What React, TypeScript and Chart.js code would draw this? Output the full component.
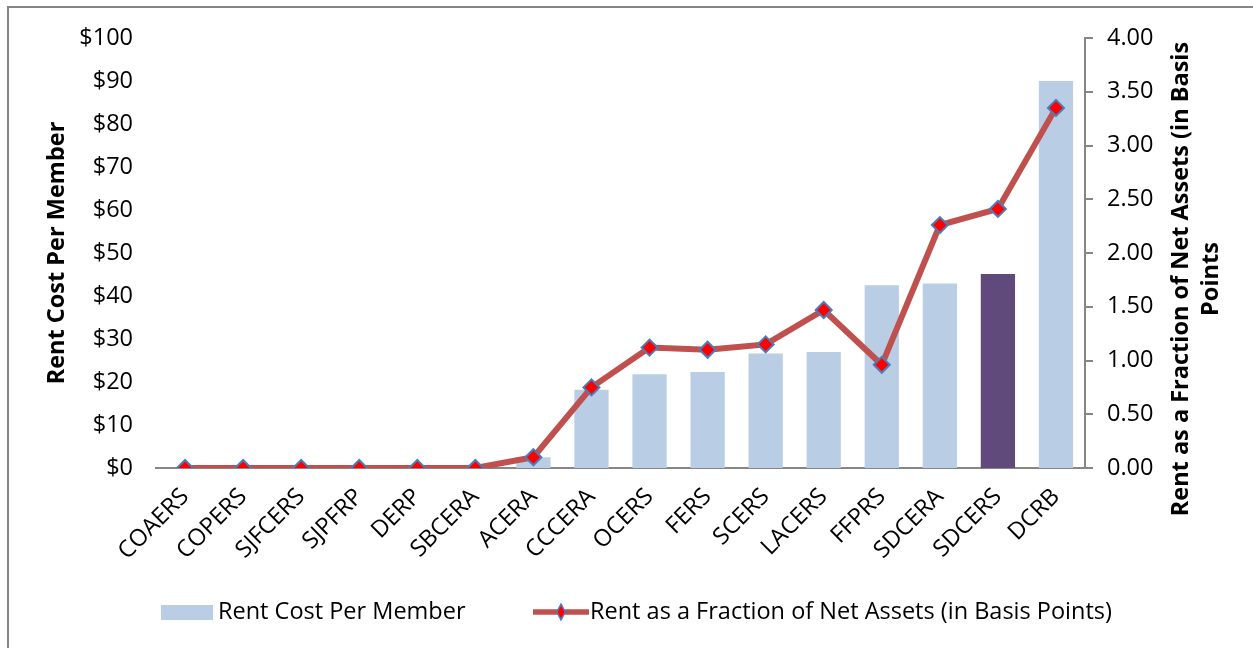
import React, { useEffect, useRef } from "react";
import { Chart, registerables } from "chart.js";

Chart.register(...registerables);

const categories = ["COAERS", "COPERS", "SJFCERS", "SJPFRP", "DERP", "SBCERA", "ACERA", "CCCERA", "OCERS", "FERS", "SCERS", "LACERS", "FFPRS", "SDCERA", "SDCERS", "DCRB"];
const rentPerMember = [0, 0, 0, 0, 0, 0, 2.5, 18.2, 21.8, 22.3, 26.6, 27.0, 42.5, 42.9, 45.1, 90.0];
const rentBasisPoints = [0, 0, 0, 0, 0, 0, 0.10, 0.75, 1.12, 1.10, 1.15, 1.47, 0.96, 2.26, 2.41, 3.35];
const highlightCategory = "SDCERS";
const leftTitle = "Rent Cost Per Member";
const rightTitleLines = ["Rent as a Fraction of Net Assets (in Basis", "Points"];
const barLegend = "Rent Cost Per Member";
const lineLegend = "Rent as a Fraction of Net Assets (in Basis Points)";

const FONT = "'Open Sans', 'Noto Sans', sans-serif";
const FS = 23.5;
const BAR = "#B9CDE5";
const BAR_HI = "#604A7B";
const LINE = "#C0504D";
const AXIS = "#868686";

const W = 1253;
const H = 648;

const decorPlugin = {
  id: "decor",
  afterDraw(chart: any) {
    const ctx = chart.ctx as CanvasRenderingContext2D;
    const area = chart.chartArea;
    ctx.save();
    // outer frame (left + top visible)
    ctx.fillStyle = AXIS;
    ctx.fillRect(7, 6, W - 7, 2);
    ctx.fillRect(7, 6, 2, H - 6);

    // axis titles
    ctx.fillStyle = "#000";
    ctx.font = `bold ${FS}px ${FONT}`;
    ctx.textAlign = "center";
    ctx.textBaseline = "middle";
    ctx.save();
    ctx.translate(57, (area.top + area.bottom) / 2);
    ctx.rotate(-Math.PI / 2);
    ctx.fillText(leftTitle, 0, 0);
    ctx.restore();

    ctx.save();
    ctx.translate(1181, 279);
    ctx.rotate(-Math.PI / 2);
    rightTitleLines.forEach((t, i) => ctx.fillText(t, 0, i * 30));
    ctx.restore();

    // legend
    const ly = 612;
    ctx.fillStyle = BAR;
    ctx.fillRect(161, 605, 52, 15);
    ctx.fillStyle = "#000";
    ctx.font = `${FS}px ${FONT}`;
    ctx.textAlign = "left";
    ctx.fillText(barLegend, 218, ly);

    ctx.strokeStyle = LINE;
    ctx.lineWidth = 5.5;
    ctx.beginPath();
    ctx.moveTo(533, ly);
    ctx.lineTo(589, ly);
    ctx.stroke();
    ctx.beginPath();
    const r = 6;
    ctx.moveTo(561, ly - r * 1.3);
    ctx.lineTo(561 + r * 0.7, ly);
    ctx.lineTo(561, ly + r * 1.3);
    ctx.lineTo(561 - r * 0.7, ly);
    ctx.closePath();
    ctx.fillStyle = "#FF0000";
    ctx.fill();
    ctx.strokeStyle = "#4A7EBB";
    ctx.lineWidth = 1.5;
    ctx.stroke();
    ctx.fillStyle = "#000";
    ctx.fillText(lineLegend, 590, ly);
    ctx.restore();
  },
};

export default function App() {
  const ref = useRef<HTMLCanvasElement | null>(null);

  useEffect(() => {
    if (!ref.current) return;
    const chart = new Chart(ref.current, {
      type: "bar",
      data: {
        labels: categories,
        datasets: [
          {
            type: "line",
            label: lineLegend,
            data: rentBasisPoints,
            yAxisID: "y1",
            borderColor: LINE,
            borderWidth: 6,
            pointStyle: "rectRot",
            pointRadius: 8,
            pointBackgroundColor: "#FF0000",
            pointBorderColor: "#4A7EBB",
            pointBorderWidth: 2,
            tension: 0,
            order: 0,
          } as any,
          {
            type: "bar",
            label: barLegend,
            data: rentPerMember,
            yAxisID: "y",
            backgroundColor: categories.map((c) => (c === highlightCategory ? BAR_HI : BAR)),
            barPercentage: 0.59,
            categoryPercentage: 1,
            order: 1,
          },
        ],
      },
      options: {
        responsive: false,
        animation: false,
        layout: { padding: { top: 38, left: 0, right: 0, bottom: 0 } },
        plugins: {
          legend: { display: false },
          tooltip: { enabled: false },
        },
        scales: {
          x: {
            grid: { display: false, drawTicks: false },
            border: { display: true, color: AXIS, width: 2 },
            ticks: {
              color: "#000",
              font: { family: FONT, size: FS },
              minRotation: 45,
              maxRotation: 45,
              autoSkip: false,
              padding: 15,
            },
            afterFit: (s: any) => {
              s.height = H - 468;
            },
          },
          y: {
            position: "left",
            min: 0,
            max: 100,
            grid: { display: false, drawTicks: false },
            border: { display: false },
            ticks: {
              stepSize: 10,
              color: "#000",
              font: { family: FONT, size: FS },
              padding: 23,
              callback: (v: any) => "$" + v,
            },
            afterFit: (s: any) => {
              s.width = 156;
            },
          },
          y1: {
            position: "right",
            min: 0,
            max: 4,
            grid: { drawOnChartArea: false, drawTicks: true, tickLength: 8, color: AXIS, lineWidth: 2 },
            border: { display: true, color: AXIS, width: 2 },
            ticks: {
              stepSize: 0.5,
              color: "#000",
              font: { family: FONT, size: FS },
              padding: 14,
              callback: (v: any) => Number(v).toFixed(2),
            },
            afterFit: (s: any) => {
              s.width = W - 1085;
            },
          },
        },
      },
      plugins: [decorPlugin],
    });
    return () => chart.destroy();
  }, []);

  return (
    <div style={{ position: "fixed", left: 0, top: 0, width: W, height: H, background: "#fff" }}>
      <canvas ref={ref} width={W} height={H} style={{ display: "block" }} />
    </div>
  );
}
